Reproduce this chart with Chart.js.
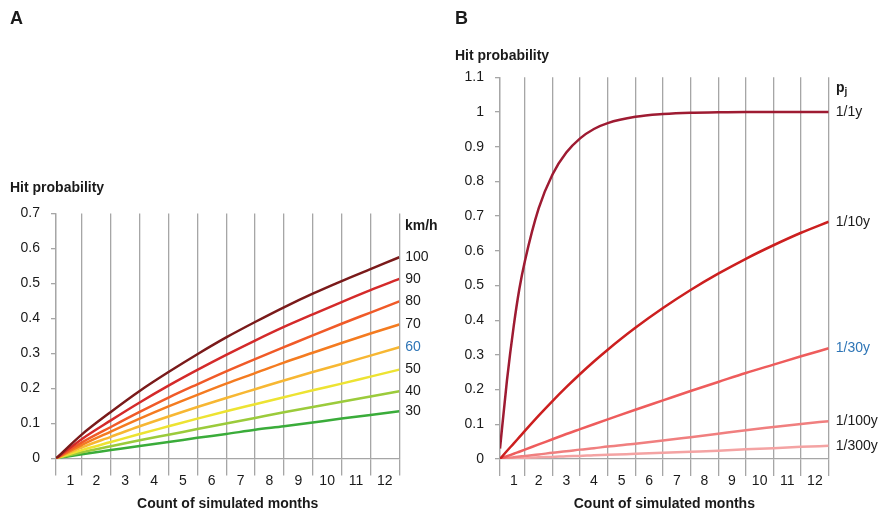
<!DOCTYPE html>
<html>
<head>
<meta charset="utf-8">
<script src="https://cdn.jsdelivr.net/npm/chart.js@4.4.0/dist/chart.umd.min.js"></script>
<style>
  body { margin: 0; background: #fff; font-family: "Liberation Sans", Arial, sans-serif; }
  #wrap { position: relative; width: 884px; height: 513px; }
  .box { position: absolute; top: 0; }
  .txt { position: absolute; font-weight: bold; font-size: 14px; color: #1a1a1a; white-space: nowrap; line-height: 1; }
  .txt sub { font-size: 10px; vertical-align: -3px; }
</style>
</head>
<body>
<div id="wrap">
  <div class="box" style="left:0"><canvas id="chartA" width="440" height="513"></canvas></div>
  <div class="box" style="left:440px"><canvas id="chartB" width="444" height="513"></canvas></div>
  <div class="txt" style="left:10px;top:9px;font-size:18px">A</div>
  <div class="txt" style="left:455px;top:9px;font-size:18px">B</div>
  <div class="txt" style="left:10px;top:180px">Hit probability</div>
  <div class="txt" style="left:455px;top:48px">Hit probability</div>
  <div class="txt" style="left:405px;top:218px">km/h</div>
  <div class="txt" style="left:836px;top:80px">p<sub>j</sub></div>
</div>
<script>
const monthLabels = ['1', '2', '3', '4', '5', '6', '7', '8', '9', '10', '11', '12'];

// Panel A - hit probability by speed
const monthsA = [0.1, 1, 2, 3, 4, 5, 6, 7, 8, 9, 10, 11, 12];
const speedLabels = ['100', '90', '80', '70', '60', '50', '40', '30'];
const hit100 = [0, 0.069, 0.133, 0.193, 0.247, 0.298, 0.346, 0.390, 0.432, 0.471, 0.507, 0.541, 0.575];
const hit90  = [0, 0.056, 0.109, 0.160, 0.208, 0.253, 0.296, 0.337, 0.376, 0.412, 0.447, 0.481, 0.513];
const hit80  = [0, 0.046, 0.090, 0.133, 0.174, 0.212, 0.249, 0.284, 0.318, 0.352, 0.385, 0.417, 0.449];
const hit70  = [0, 0.039, 0.077, 0.114, 0.149, 0.182, 0.214, 0.244, 0.274, 0.302, 0.330, 0.357, 0.383];
const hit60  = [0, 0.032, 0.062, 0.092, 0.120, 0.147, 0.173, 0.198, 0.223, 0.247, 0.270, 0.294, 0.318];
const hit50  = [0, 0.024, 0.047, 0.070, 0.092, 0.114, 0.135, 0.155, 0.175, 0.195, 0.214, 0.234, 0.254];
const hit40  = [0, 0.018, 0.035, 0.052, 0.068, 0.084, 0.100, 0.116, 0.132, 0.147, 0.162, 0.177, 0.192];
const hit30  = [0, 0.012, 0.024, 0.036, 0.047, 0.059, 0.070, 0.082, 0.092, 0.103, 0.114, 0.124, 0.135];
const yTicksA = [0, 0.1, 0.2, 0.3, 0.4, 0.5, 0.6, 0.7];

// Panel B - hit probability by p_j
const monthsB = [0.1, 0.35, 0.6, 0.8, 1, 1.5, 2, 2.5, 3, 3.5, 4, 5, 6, 7, 8, 9, 10, 11, 12];
const pjLabels = ['1/1y', '1/10y', '1/30y', '1/100y', '1/300y'];
const hit1y   = [0.03, 0.225, 0.385, 0.49, 0.57, 0.722, 0.82, 0.883, 0.924, 0.951, 0.968, 0.986, 0.994, 0.998, 0.999, 1, 1, 1, 1];
const hit10y  = [0, 0.023, 0.045, 0.063, 0.081, 0.125, 0.167, 0.207, 0.245, 0.281, 0.315, 0.378, 0.435, 0.487, 0.534, 0.577, 0.616, 0.652, 0.684];
const hit30y  = [0, 0.008, 0.015, 0.021, 0.027, 0.042, 0.057, 0.072, 0.086, 0.1, 0.114, 0.142, 0.169, 0.196, 0.222, 0.248, 0.272, 0.296, 0.319];
const hit100y = [0, 0.003, 0.005, 0.007, 0.009, 0.013, 0.018, 0.022, 0.027, 0.031, 0.036, 0.044, 0.053, 0.063, 0.073, 0.083, 0.092, 0.101, 0.109];
const hit300y = [0, 0.001, 0.002, 0.0025, 0.003, 0.005, 0.006, 0.008, 0.009, 0.011, 0.012, 0.015, 0.018, 0.021, 0.024, 0.028, 0.031, 0.035, 0.038];
const yTicksB = [0, 0.1, 0.2, 0.3, 0.4, 0.5, 0.6, 0.7, 0.8, 0.9, 1, 1.1];

const gridColor = '#a6a6a6';
const textColor = '#1a1a1a';
const blue = '#2e75b6';
const family = '"Liberation Sans", Arial, sans-serif';

function buildPanel(canvasId, months, series, labels, colors, yTicks, o) {
  const datasets = series.map((vals, i) => ({
    label: labels[i],
    data: months.map((m, j) => ({ x: m, y: vals[j] })),
    borderColor: colors[i],
    borderWidth: 2.5,
    pointRadius: 0,
    cubicInterpolationMode: 'monotone',
    fill: false
  }));
  const ends = series.map(v => v[v.length - 1]);
  const yMax = yTicks[yTicks.length - 1];

  return new Chart(document.getElementById(canvasId), {
    type: 'line',
    data: { datasets },
    options: {
      responsive: false,
      animation: false,
      layout: { padding: { top: o.top, left: 0, right: 0, bottom: 0 } },
      plugins: { legend: { display: false }, tooltip: { enabled: false } },
      scales: {
        x: {
          type: 'linear', min: 0.1, max: 12,
          afterBuildTicks: ax => { ax.ticks = [ax.min].concat(monthLabels.map(Number)).map(v => ({ value: v })); },
          afterFit: ax => { ax.height = o.xHeight; },
          grid: { color: gridColor, lineWidth: 1.3, tickLength: 17 },
          border: { color: gridColor, width: 1.3 },
          ticks: {
            autoSkip: false, maxRotation: 0, labelOffset: o.half, padding: -3,
            color: textColor, font: { size: 14, family },
            callback: (v, i) => monthLabels[i] || ''
          },
          title: {
            display: true, text: 'Count of simulated months', color: textColor,
            font: { size: 14, weight: 'bold', family }, padding: { top: 0, bottom: 0 }
          }
        },
        y: {
          min: 0, max: yMax,
          afterBuildTicks: ax => { ax.ticks = yTicks.map(v => ({ value: v })); },
          afterFit: ax => { ax.width = o.yWidth; },
          grid: { drawOnChartArea: false, color: gridColor, lineWidth: 1.3, tickLength: 5 },
          border: { color: gridColor, width: 1.3 },
          ticks: {
            padding: 11, color: textColor, font: { size: 14, family },
            callback: v => String(+v.toFixed(1))
          }
        },
        yLab: {
          position: 'right', min: 0, max: yMax,
          afterBuildTicks: ax => { ax.ticks = ends.map(v => ({ value: v })); },
          afterFit: ax => { ax.width = o.rightWidth; },
          grid: { display: false, drawTicks: false },
          border: { display: false },
          ticks: {
            autoSkip: false, padding: o.labPad,
            color: c => (c.index === o.blueIndex ? blue : textColor),
            font: { size: 14, family },
            callback: (v, i) => labels[i]
          }
        }
      }
    }
  });
}

buildPanel('chartA', monthsA,
  [hit100, hit90, hit80, hit70, hit60, hit50, hit40, hit30], speedLabels,
  ['#7a1a1a', '#d42a2a', '#f05a28', '#f47b20', '#f7b733', '#ede332', '#9bcb3b', '#3aac3a'],
  yTicksA,
  { top: 213.5, xHeight: 54.5, yWidth: 56, rightWidth: 40.7, half: 14.4, labPad: 6, blueIndex: 4 });

buildPanel('chartB', monthsB,
  [hit1y, hit10y, hit30y, hit100y, hit300y], pjLabels,
  ['#9e1b32', '#cc1f1f', '#ee5c5c', '#f07f7f', '#f4a3a3'],
  yTicksB,
  { top: 77.3, xHeight: 54, yWidth: 60, rightWidth: 55.3, half: 13.8, labPad: 7, blueIndex: 2 });
</script>
</body>
</html>
